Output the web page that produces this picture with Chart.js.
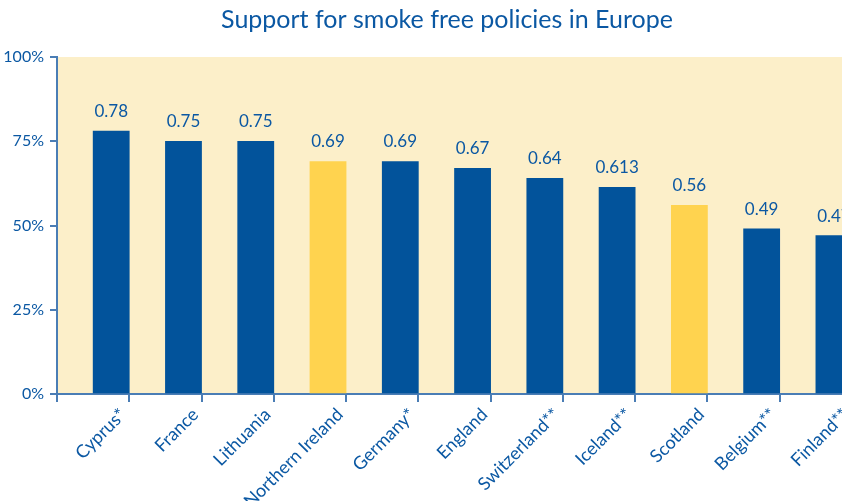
<!DOCTYPE html>
<html>
<head>
<meta charset="utf-8">
<script src="https://cdn.jsdelivr.net/npm/chart.js@4.4.1/dist/chart.umd.min.js"></script>
<style>
  html, body { margin: 0; padding: 0; background: #fff; overflow: hidden; }
  #wrap { width: 894px; height: 501px; }
</style>
</head>
<body>
<div id="wrap"><canvas id="chart" width="894" height="501"></canvas></div>
<script>
// survey results, share of people in favour
var countries = ["Cyprus*", "France", "Lithuania", "Northern Ireland", "Germany*", "England",
                 "Switzerland**", "Iceland**", "Scotland", "Belgium**", "Finland**"];
var support = [0.78, 0.75, 0.75, 0.69, 0.69, 0.67, 0.64, 0.613, 0.56, 0.49, 0.47];
var highlighted = ["Northern Ireland", "Scotland"];
var yTicks = [0, 0.25, 0.5, 0.75, 1];

var BLUE = "#02539b";
var YELLOW = "#ffd34f";
var TEXT = "#0b58a3";
var AXIS = "#4a7db5";

var barColors = countries.map(function (c) {
  return highlighted.indexOf(c) >= 0 ? YELLOW : BLUE;
});

// cream panel behind the bars
var panelBg = {
  id: "panelBg",
  beforeDraw: function (chart) {
    var a = chart.chartArea, ctx = chart.ctx;
    ctx.save();
    ctx.fillStyle = "#fcefc9";
    ctx.fillRect(a.left, a.top, a.right - a.left, a.bottom - a.top);
    ctx.restore();
  }
};

// value printed above each bar
var valueLabels = {
  id: "valueLabels",
  afterDatasetsDraw: function (chart) {
    var ctx = chart.ctx;
    var meta = chart.getDatasetMeta(1);
    ctx.save();
    ctx.font = "17px Lato";
    ctx.fillStyle = TEXT;
    ctx.textAlign = "center";
    ctx.textBaseline = "alphabetic";
    meta.data.forEach(function (bar, i) {
      ctx.fillText(String(support[i]), bar.x, bar.y - 14);
    });
    ctx.restore();
  }
};

new Chart(document.getElementById("chart"), {
  type: "bar",
  data: {
    labels: countries,
    datasets: [
      { label: "", data: countries.map(function () { return null; }) },
      { label: "Support", data: support, backgroundColor: barColors }
    ]
  },
  options: {
    responsive: false,
    animation: false,
    layout: { padding: 0 },
    datasets: { bar: { categoryPercentage: 1, barPercentage: 1 } },
    plugins: {
      legend: { display: false },
      tooltip: { enabled: false },
      title: {
        display: true,
        text: "Support for smoke free policies in Europe",
        color: TEXT,
        font: { family: "Lato", size: 25, weight: "normal", lineHeight: 1.2 },
        padding: { top: 5, bottom: 22 }
      }
    },
    scales: {
      x: {
        offset: true,
        grid: { offset: true, drawOnChartArea: false, color: AXIS, tickLength: 8, lineWidth: 2 },
        border: { color: AXIS, width: 2 },
        ticks: {
          color: TEXT,
          font: { family: "Lato", size: 18 },
          minRotation: 45,
          maxRotation: 45,
          autoSkip: false,
          labelOffset: 30,
          padding: 2
        },
        afterFit: function (s) { s.height = 107; }
      },
      y: {
        min: 0,
        max: 1,
        afterBuildTicks: function (s) {
          s.ticks = yTicks.map(function (v) { return { value: v }; });
        },
        grid: { drawOnChartArea: false, color: AXIS, tickLength: 7, lineWidth: 2 },
        border: { color: AXIS, width: 2 },
        ticks: {
          color: TEXT,
          font: { family: "Lato", size: 16 },
          padding: 6,
          callback: function (v) { return Math.round(v * 100) + "%"; }
        },
        afterFit: function (s) { s.width = 57; }
      },
      // empty strip on the right so the panel stops short of the title's centre line
      yRight: {
        position: "right",
        min: 0,
        max: 1,
        grid: { display: false },
        border: { display: false },
        ticks: { display: false },
        afterFit: function (s) { s.width = 42; }
      }
    }
  },
  plugins: [panelBg, valueLabels]
});
</script>
</body>
</html>
